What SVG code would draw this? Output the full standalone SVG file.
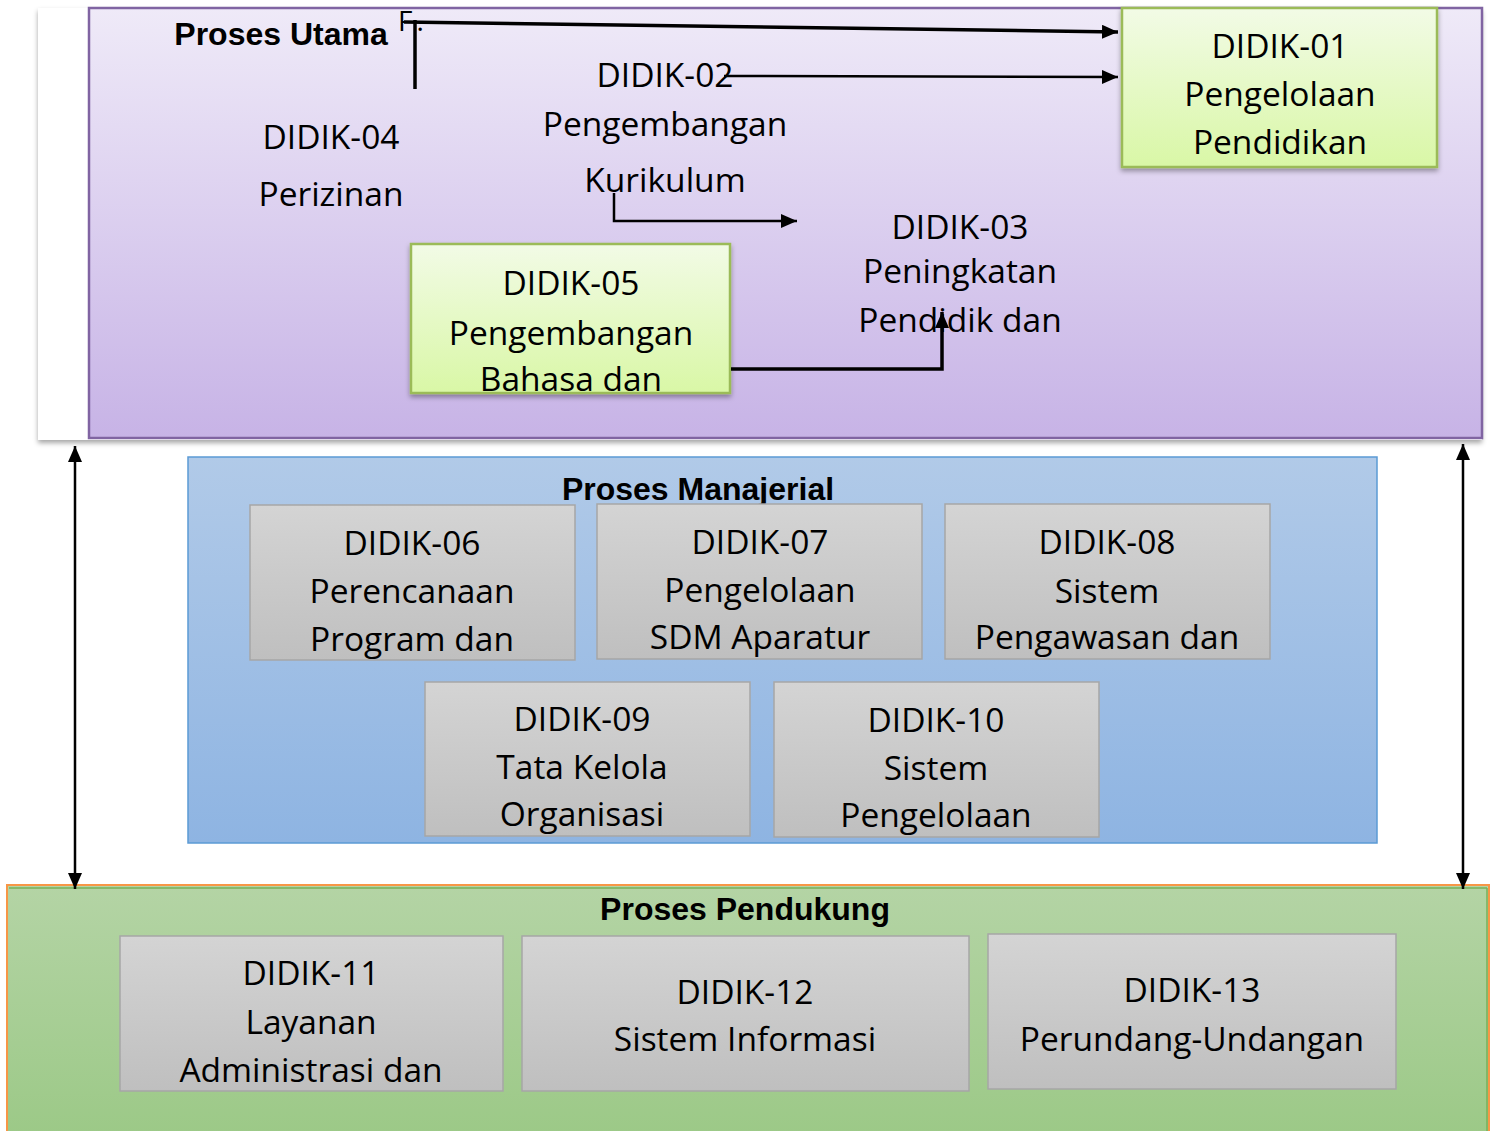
<svg xmlns="http://www.w3.org/2000/svg" width="1496" height="1131" viewBox="0 0 1496 1131">
<defs>
<linearGradient id="gPurple" x1="0" y1="0" x2="0" y2="1"><stop offset="0" stop-color="#EFEAF8"/><stop offset="1" stop-color="#C7B3E6"/></linearGradient>
<linearGradient id="gBlue" x1="0" y1="0" x2="0" y2="1"><stop offset="0" stop-color="#B1CAE8"/><stop offset="1" stop-color="#8EB4E2"/></linearGradient>
<linearGradient id="gGreenPanel" x1="0" y1="0" x2="0" y2="1"><stop offset="0" stop-color="#B4D4A5"/><stop offset="1" stop-color="#9CC987"/></linearGradient>
<linearGradient id="gLime" x1="0" y1="0" x2="0" y2="1"><stop offset="0" stop-color="#F2FBE6"/><stop offset="1" stop-color="#D9F7A6"/></linearGradient>
<linearGradient id="gGray" x1="0" y1="0" x2="0" y2="1"><stop offset="0" stop-color="#D4D4D4"/><stop offset="1" stop-color="#BFBFBF"/></linearGradient>
<filter id="sh" x="-5%" y="-5%" width="110%" height="115%"><feDropShadow dx="0" dy="3" stdDeviation="2.5" flood-color="#000" flood-opacity="0.35"/></filter>
<marker id="ah" viewBox="0 0 16 14" refX="16" refY="7" markerWidth="16" markerHeight="14" markerUnits="userSpaceOnUse" orient="auto-start-reverse"><path d="M0,0 L16,7 L0,14 Z" fill="#000"/></marker>
<style>
.t{font-family:"Open Sans","Noto Sans","DejaVu Sans",sans-serif;font-size:33.5px;fill:#000;text-anchor:middle}
.h{font-family:"Liberation Sans",Arial,sans-serif;font-size:32px;font-weight:bold;fill:#000;text-anchor:middle}
.lime{fill:url(#gLime);stroke:#9BBB59;stroke-width:2.5}
.gray{fill:url(#gGray);stroke:#A6A6A6;stroke-width:1.5}
.c{fill:none;stroke:#000;stroke-width:3.5}
.c2{fill:none;stroke:#000;stroke-width:2.5}
</style>
</defs>
<rect width="1496" height="1131" fill="#fff"/>

<g id="panel-utama">
<rect x="38" y="8" width="1444" height="432" fill="#fff" filter="url(#sh)"/>
<rect x="89" y="8" width="1393" height="430" fill="url(#gPurple)" stroke="#8064A2" stroke-width="2.5"/>
<text class="h" x="281" y="45">Proses Utama</text>
<text x="398" y="31" font-family="Open Sans, sans-serif" font-size="28" letter-spacing="4">F.</text>
</g>

<g id="panel-manajerial">
<rect x="188" y="457" width="1189" height="386" fill="url(#gBlue)" stroke="#5B9BD5" stroke-width="1.5"/>
<text class="h" x="698" y="500">Proses Manajerial</text>
</g>

<g id="panel-pendukung">
<rect x="7" y="885" width="1482" height="250" fill="url(#gGreenPanel)" stroke="#F79646" stroke-width="2"/>
<line x1="9" y1="888" x2="1487" y2="888" stroke="#77B05A" stroke-width="1.5"/>
<line x1="1487" y1="888" x2="1487" y2="1131" stroke="#77B05A" stroke-width="1.5"/>
<text class="h" x="745" y="920">Proses Pendukung</text>
</g>

<g id="didik-01">
<rect class="lime" x="1122" y="8" width="315" height="159" filter="url(#sh)"/>
<text class="t" x="1280" y="58">DIDIK-01</text>
<text class="t" x="1280" y="106">Pengelolaan</text>
<text class="t" x="1280" y="154">Pendidikan</text>
</g>

<g id="didik-02">
<text class="t" x="665" y="87">DIDIK-02</text>
<text class="t" x="665" y="136">Pengembangan</text>
<text class="t" x="665" y="192">Kurikulum</text>
</g>

<g id="didik-03">
<text class="t" x="960" y="239">DIDIK-03</text>
<text class="t" x="960" y="283">Peningkatan</text>
<text class="t" x="960" y="332">Pendidik dan</text>
</g>

<g id="didik-04">
<text class="t" x="331" y="149">DIDIK-04</text>
<text class="t" x="331" y="206">Perizinan</text>
</g>

<g id="didik-05">
<rect class="lime" x="411" y="244" width="319" height="149" filter="url(#sh)"/>
<text class="t" x="571" y="295">DIDIK-05</text>
<text class="t" x="571" y="345">Pengembangan</text>
<text class="t" x="571" y="391">Bahasa dan</text>
</g>

<g id="didik-06"><rect class="gray" x="250" y="505" width="325" height="155"/>
<text class="t" x="412" y="555">DIDIK-06</text><text class="t" x="412" y="603">Perencanaan</text><text class="t" x="412" y="651">Program dan</text></g>
<g id="didik-07"><rect class="gray" x="597" y="504" width="325" height="155"/>
<text class="t" x="760" y="554">DIDIK-07</text><text class="t" x="760" y="602">Pengelolaan</text><text class="t" x="760" y="649">SDM Aparatur</text></g>
<g id="didik-08"><rect class="gray" x="945" y="504" width="325" height="155"/>
<text class="t" x="1107" y="554">DIDIK-08</text><text class="t" x="1107" y="603">Sistem</text><text class="t" x="1107" y="649">Pengawasan dan</text></g>
<g id="didik-09"><rect class="gray" x="425" y="682" width="325" height="154"/>
<text class="t" x="582" y="731">DIDIK-09</text><text class="t" x="582" y="779">Tata Kelola</text><text class="t" x="582" y="826">Organisasi</text></g>
<g id="didik-10"><rect class="gray" x="774" y="682" width="325" height="155"/>
<text class="t" x="936" y="732">DIDIK-10</text><text class="t" x="936" y="780">Sistem</text><text class="t" x="936" y="827">Pengelolaan</text></g>
<g id="didik-11"><rect class="gray" x="120" y="936" width="383" height="155"/>
<text class="t" x="311" y="985">DIDIK-11</text><text class="t" x="311" y="1034">Layanan</text><text class="t" x="311" y="1082">Administrasi dan</text></g>
<g id="didik-12"><rect class="gray" x="522" y="936" width="447" height="155"/>
<text class="t" x="745" y="1004">DIDIK-12</text><text class="t" x="745" y="1051">Sistem Informasi</text></g>
<g id="didik-13"><rect class="gray" x="988" y="934" width="408" height="155"/>
<text class="t" x="1192" y="1002">DIDIK-13</text><text class="t" x="1192" y="1051">Perundang-Undangan</text></g>

<g id="connectors">
<line class="c" x1="415" y1="20" x2="415" y2="89"/>
<line class="c" x1="404" y1="22" x2="1118" y2="32" marker-end="url(#ah)"/>
<line class="c2" x1="724" y1="76" x2="1118" y2="77" marker-end="url(#ah)"/>
<polyline class="c2" points="614,193 614,221 797,221" marker-end="url(#ah)"/>
<polyline class="c" points="731,369 942,369 942,312" marker-end="url(#ah)"/>
<line class="c2" x1="75" y1="446" x2="75" y2="889" marker-start="url(#ah)" marker-end="url(#ah)"/>
<line class="c2" x1="1463" y1="444" x2="1463" y2="889" marker-start="url(#ah)" marker-end="url(#ah)"/>
</g>
</svg>
